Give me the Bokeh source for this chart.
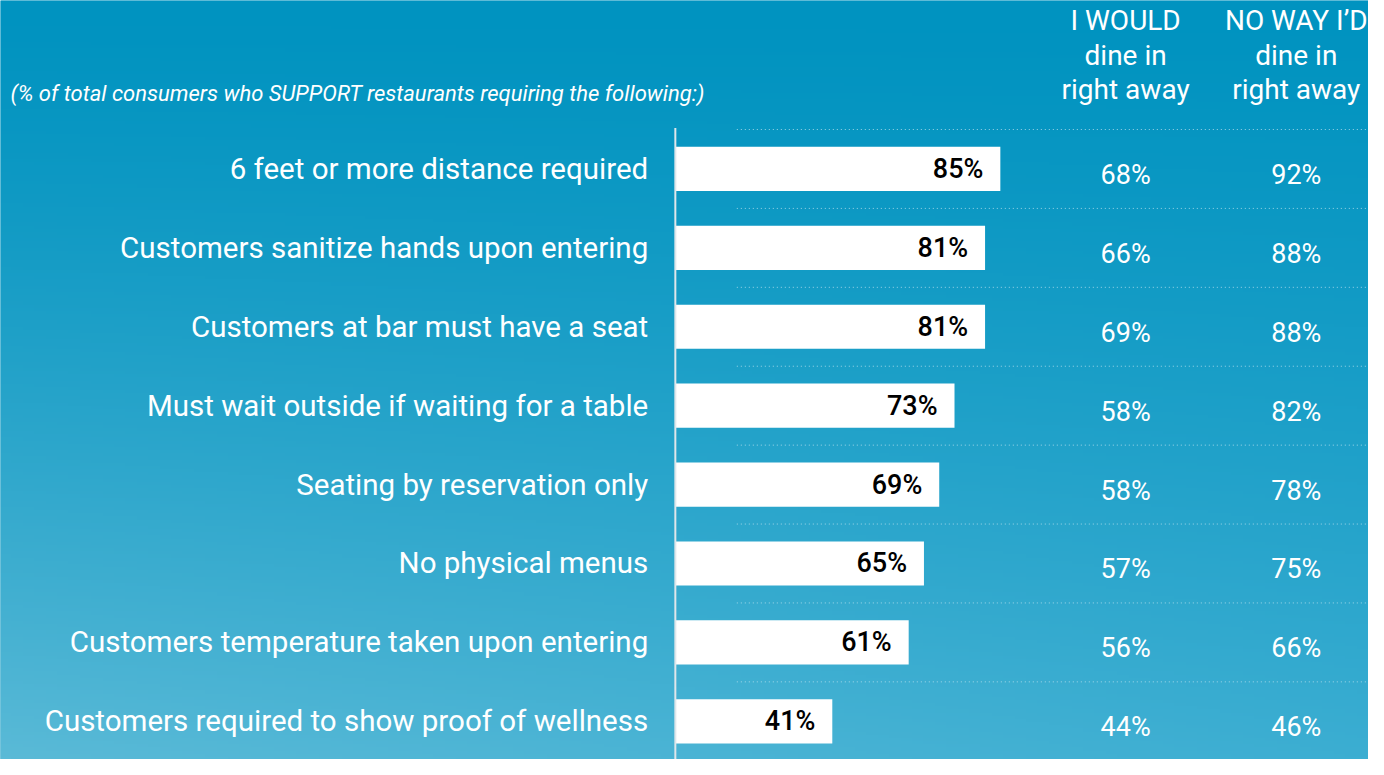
import numpy as np
from bokeh.plotting import figure
from bokeh.models import Range1d, ColumnDataSource
from bokeh.core.properties import value
from bokeh.embed import file_html
from bokeh.resources import INLINE

# ---- data ----
categories = [
    "6 feet or more distance required",
    "Customers sanitize hands upon entering",
    "Customers at bar must have a seat",
    "Must wait outside if waiting for a table",
    "Seating by reservation only",
    "No physical menus",
    "Customers temperature taken upon entering",
    "Customers required to show proof of wellness",
]
support_total = [85, 81, 81, 73, 69, 65, 61, 41]
would_dine = [68, 66, 69, 58, 58, 57, 56, 44]
no_way_dine = [92, 88, 88, 82, 78, 75, 66, 46]
header_would = ["I WOULD", "dine in", "right away"]
header_noway = ["NO WAY I\u2019D", "dine in", "right away"]
subtitle = "(% of total consumers who SUPPORT restaurants requiring the following:)"

FONT = "Roboto"
FONT_MED = "Roboto Medium"
W, H = 1368, 759

# x in percent units (0 at bar base), y in row index units
XMIN, XMAX = -176.8, 181.4
YTOP, YBOT = -2.135, 7.484

p = figure(width=W, height=H, output_backend="svg", toolbar_location=None,
           x_range=Range1d(XMIN, XMAX), y_range=Range1d(YBOT, YTOP),
           min_border=0, outline_line_color=None)
p.xaxis.visible = False
p.yaxis.visible = False
p.grid.visible = False
p.background_fill_color = "#0093c0"
p.border_fill_color = "#0093c0"

# background gradient
ny, nx = 240, 120
t = np.linspace(0, 1, ny)[:, None]
s = np.linspace(0, 1, nx)[None, :]
top = np.array([0, 147, 192], dtype=float)
bot_left = np.array([90, 186, 215], dtype=float)
bot_right = np.array([60, 174, 210], dtype=float)
tt = t ** 1.3
bot = bot_left[None, None, :] * (1 - s[..., None]) + bot_right[None, None, :] * s[..., None]
img_rgb = top[None, None, :] * (1 - tt[..., None]) + bot * tt[..., None]
img = np.zeros((ny, nx), dtype=np.uint32)
view = img.view(dtype=np.uint8).reshape((ny, nx, 4))
view[..., 0] = img_rgb[..., 0].astype(np.uint8)
view[..., 1] = img_rgb[..., 1].astype(np.uint8)
view[..., 2] = img_rgb[..., 2].astype(np.uint8)
view[..., 3] = 255
p.image_rgba(image=[img], x=XMIN, y=YTOP, dw=XMAX - XMIN, dh=YBOT - YTOP)

rows = list(range(len(categories)))
src = ColumnDataSource(dict(
    y=rows, cat=categories, v=support_total,
    vlab=[f"{v}%" for v in support_total],
    w=[f"{v}%" for v in would_dine],
    n=[f"{v}%" for v in no_way_dine],
))

# dotted separators
sep_y = [r - 0.5 for r in rows]
p.segment(x0=16, x1=XMAX, y0=sep_y, y1=sep_y, line_color="#bfe3f0",
          line_width=1, line_dash="1 3", line_alpha=0.8)

# bars
p.hbar(y="y", left=0, right="v", height=0.56, source=src,
       fill_color="white", line_color=None)

# vertical axis line
p.segment(x0=-0.1, x1=-0.1, y0=-0.52, y1=YBOT, line_color="#dfe6ea", line_width=2)

# bar value labels
p.text(x="v", y="y", text="vlab", source=src, x_offset=-17,
       text_align="right", text_baseline="middle", text_color="black",
       text_font=value(FONT_MED), text_font_size="27px")

# category labels
p.text(x=-7.2, y="y", text="cat", source=src, text_align="right",
       text_baseline="middle", text_color="white",
       text_font=value(FONT), text_font_size="29.5px")

# column values
col1_x, col2_x = 117.8, 162.5
p.text(x=col1_x, y="y", text="w", source=src, y_offset=6, text_align="center",
       text_baseline="middle", text_color="white",
       text_font=value(FONT), text_font_size="27px")
p.text(x=col2_x, y="y", text="n", source=src, y_offset=6, text_align="center",
       text_baseline="middle", text_color="white",
       text_font=value(FONT), text_font_size="27px")

# headers
hy = [-1.887, -1.44, -1.005]
p.text(x=[col1_x] * 3, y=hy, text=header_would, text_align="center",
       text_baseline="middle", text_color="white",
       text_font=value(FONT), text_font_size="28px")
p.text(x=[col2_x] * 3, y=hy, text=header_noway, text_align="center",
       text_baseline="middle", text_color="white",
       text_font=value(FONT), text_font_size="28px")

# subtitle
p.text(x=[XMIN + 2.6], y=[-0.955], text=[subtitle], text_align="left",
       text_baseline="middle", text_color="white",
       text_font=value(FONT), text_font_size="22px", text_font_style="italic")

open("out.html", "w").write(file_html(p, INLINE))
